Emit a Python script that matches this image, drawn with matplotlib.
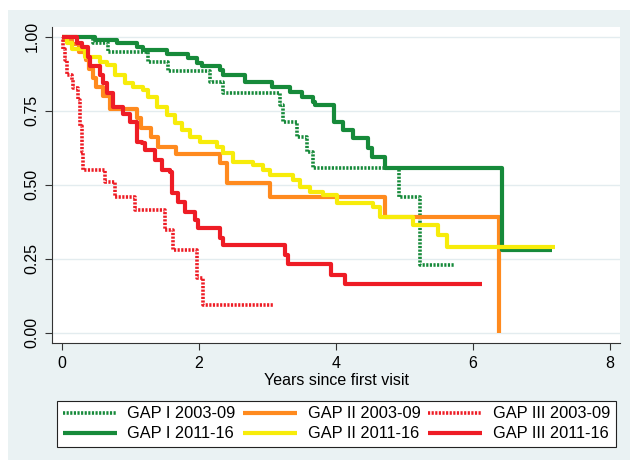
import matplotlib.pyplot as plt
from matplotlib.patches import Rectangle

plt.rcParams['font.family'] = ['Liberation Sans', 'DejaVu Sans']

# Kaplan-Meier curves: (time in years, survival)
gap1_0309_t = [0, 0.45, 0.67, 1.26, 1.55, 2.16, 2.35, 3.18, 3.23, 3.43, 3.58, 3.66, 4.92, 5.23, 5.72]
gap1_0309_s = [1.0, 0.978, 0.947, 0.916, 0.885, 0.848, 0.809, 0.77, 0.713, 0.662, 0.611, 0.556, 0.459, 0.229, 0.229]

gap2_0309_t = [0, 0.15, 0.25, 0.35, 0.40, 0.45, 0.50, 0.60, 0.70, 1.09, 1.16, 1.30, 1.40, 1.67, 2.31, 2.41, 3.04, 4.72, 6.38]
gap2_0309_s = [0.99, 0.975, 0.95, 0.92, 0.89, 0.86, 0.83, 0.80, 0.757, 0.725, 0.69, 0.66, 0.628, 0.605, 0.573, 0.505, 0.458, 0.392, 0.0]

gap3_0309_t = [0, 0.02, 0.04, 0.07, 0.15, 0.16, 0.23, 0.26, 0.27, 0.29, 0.31, 0.63, 0.77, 1.07, 1.50, 1.62, 1.97, 2.06, 3.08]
gap3_0309_s = [1.0, 0.96, 0.92, 0.87, 0.854, 0.826, 0.786, 0.77, 0.70, 0.61, 0.55, 0.51, 0.459, 0.415, 0.348, 0.28, 0.185, 0.093, 0.093]

gap1_1116_t = [0, 0.48, 0.80, 1.09, 1.18, 1.53, 1.84, 1.97, 2.05, 2.31, 2.35, 2.67, 3.06, 3.33, 3.50, 3.66, 3.70,
               3.97, 4.10, 4.25, 4.47, 4.53, 4.72, 6.42, 7.15]
gap1_1116_s = [1.0, 0.99, 0.98, 0.966, 0.955, 0.942, 0.928, 0.91, 0.90, 0.887, 0.87, 0.848, 0.831, 0.814, 0.797, 0.78, 0.77,
               0.713, 0.684, 0.659, 0.624, 0.595, 0.556, 0.278, 0.278]

gap2_1116_t = [0, 0.08, 0.15, 0.34, 0.55, 0.66, 0.77, 0.92, 1.04, 1.18, 1.26, 1.39, 1.53, 1.65, 1.75, 1.87, 2.01,
               2.26, 2.35, 2.50, 2.79, 2.93, 3.04, 3.37, 3.47, 3.62, 3.81, 4.01, 4.54, 4.64, 5.12, 5.49, 5.62, 7.20]
gap2_1116_s = [1.0, 0.98, 0.96, 0.93, 0.914, 0.904, 0.87, 0.843, 0.83, 0.82, 0.797, 0.764, 0.735, 0.708, 0.685, 0.662, 0.646,
               0.628, 0.607, 0.578, 0.567, 0.55, 0.533, 0.515, 0.493, 0.476, 0.465, 0.438, 0.426, 0.392, 0.364, 0.33, 0.29, 0.29]

gap3_1116_t = [0, 0.22, 0.29, 0.38, 0.41, 0.55, 0.60, 0.66, 0.74, 0.89, 0.99, 1.09, 1.17, 1.21, 1.36, 1.46, 1.58, 1.60,
               1.69, 1.80, 1.94, 1.99, 2.31, 2.35, 3.26, 3.30, 3.93, 4.13, 6.13]
gap3_1116_s = [1.0, 0.98, 0.966, 0.93, 0.90, 0.87, 0.843, 0.81, 0.764, 0.74, 0.713, 0.646, 0.64, 0.617, 0.583, 0.55, 0.544, 0.472,
               0.44, 0.409, 0.38, 0.353, 0.32, 0.296, 0.262, 0.232, 0.195, 0.165, 0.165]

labels = ['GAP I 2003-09', 'GAP II 2003-09', 'GAP III 2003-09',
          'GAP I 2011-16', 'GAP II 2011-16', 'GAP III 2011-16']

green = '#168A3A'
orange = '#FF8A1E'
yellow = '#F7EC0A'
red = '#EE1C25'
bg = '#EAF2F3'

fig = plt.figure(figsize=(6.31, 4.63), dpi=100)
fig.patch.set_facecolor('white')
fig.add_artist(Rectangle((8 / 631, 3 / 463), 622 / 631, 450 / 463, transform=fig.transFigure,
                         facecolor=bg, edgecolor='none', zorder=-10))

ax = fig.add_axes([52 / 631, 1 - 343 / 463, 568 / 631, 316 / 463])
ax.set_zorder(1)
ax.set_facecolor('white')

dot = (0, (0.6, 0.4))
series = [
    (gap1_0309_t, gap1_0309_s, green, dot, 2.6),
    (gap2_0309_t, gap2_0309_s, orange, '-', 3.0),
    (gap3_0309_t, gap3_0309_s, red, dot, 2.6),
    (gap1_1116_t, gap1_1116_s, green, '-', 3.0),
    (gap2_1116_t, gap2_1116_s, yellow, '-', 3.0),
    (gap3_1116_t, gap3_1116_s, red, '-', 3.0),
]
handles = []
for (t, s, c, ls, lw), lab in zip(series, labels):
    h, = ax.step(t, s, where='post', color=c, linestyle=ls, linewidth=lw, label=lab,
                 solid_capstyle='butt', dash_capstyle='butt')
    handles.append(h)

ax.set_xlim(-0.146, 8.146)
ax.set_ylim(-0.035, 1.033)
ax.set_xticks([0, 2, 4, 6, 8])
ax.set_yticks([0, 0.25, 0.5, 0.75, 1.0])
ax.set_yticklabels(['0.00', '0.25', '0.50', '0.75', '1.00'], rotation=90, va='center')
ax.tick_params(labelsize=11.5, length=5, width=0.8, color='#333333', pad=4)
ax.grid(axis='y', color='#E3ECEF', linewidth=1.0)
ax.set_axisbelow(True)
for sp in ['top', 'right']:
    ax.spines[sp].set_visible(False)
for sp in ['left', 'bottom']:
    ax.spines[sp].set_color('#333333')
    ax.spines[sp].set_linewidth(0.8)
ax.set_xlabel('Years since first visit', fontsize=11.5, labelpad=2)

order = [0, 3, 1, 4, 2, 5]
leg = fig.legend([handles[i] for i in order], [labels[i] for i in order],
                 ncol=3, loc='lower left', bbox_to_anchor=(57 / 631, 16 / 463, 559 / 631, 52 / 463),
                 mode='expand', fontsize=11.8, frameon=True, fancybox=False, edgecolor='#222222',
                 framealpha=1, handlelength=3.3, handletextpad=0.65, borderaxespad=0,
                 labelspacing=0.3, borderpad=0.35)
leg.get_frame().set_linewidth(0.8)

fig.savefig('out.png', dpi=100)
